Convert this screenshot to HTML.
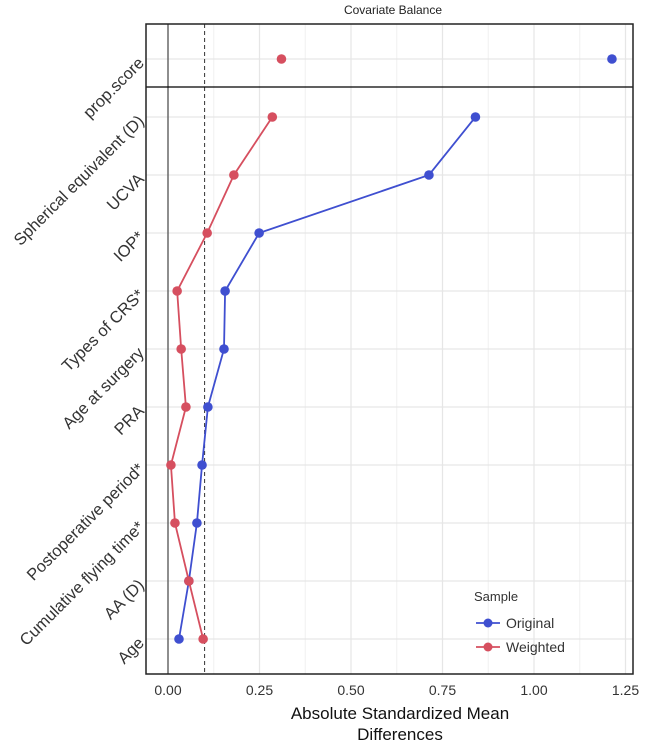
<!DOCTYPE html>
<html><head><meta charset="utf-8"><style>
body{margin:0;background:#fff;}
svg{display:block;font-family:"Liberation Sans",Arial,sans-serif;}
</style></head><body>
<svg id="chart" width="646" height="746"></svg>
<script>
const categories=["prop.score","Spherical equivalent (D)","UCVA","IOP*","Types of CRS*","Age at surgery","PRA","Postoperative period*","Cumulative flying time*","AA (D)","Age"];
const originalValues=[1.213,0.84,0.713,0.249,0.156,0.153,0.109,0.093,0.079,0.057,0.03];
const weightedValues=[0.31,0.285,0.18,0.107,0.025,0.036,0.049,0.008,0.019,0.057,0.096];
const xTicks=[0,0.25,0.5,0.75,1.0,1.25];
const xTickLabels=["0.00","0.25","0.50","0.75","1.00","1.25"];
const threshold=0.1;

const NS="http://www.w3.org/2000/svg";
const svg=document.getElementById('chart');
const L=146,R=633,T=24,B=674;
const x=v=>168+v*366;
const y=i=>59+i*58;
function el(t,a,p){const e=document.createElementNS(NS,t);for(const k in a)e.setAttribute(k,a[k]);(p||svg).appendChild(e);return e;}

const title=el('text',{x:393,y:14,'font-size':12,'text-anchor':'middle',fill:'#222'});title.textContent='Covariate Balance';



for(let i=0;i<xTicks.length;i++){
 const mv=xTicks[i]+0.125;
 if(x(mv)<R){const g=el('line',{x1:x(mv),x2:x(mv),y1:T,y2:B,stroke:'#f0f0f0','stroke-width':1});
 
 }
}
xTicks.forEach((v,i)=>{
 const g=el('line',{x1:x(v),x2:x(v),y1:T,y2:B,stroke:'#e6e6e6','stroke-width':1.2});
 
 
 const t=el('text',{x:x(v),y:695,'font-size':14,'text-anchor':'middle',fill:'#333'});
 t.textContent=xTickLabels[i];
 
 
});
categories.forEach((c,i)=>{
 const g=el('line',{x1:L,x2:R,y1:y(i),y2:y(i),stroke:'#e6e6e6','stroke-width':1.2});
 
 
 const t=el('text',{x:0,y:0,'font-size':16.5,'text-anchor':'end',fill:'#333',transform:`translate(${L-1},${y(i)+5}) rotate(-45)`});
 t.textContent=c;
 
 
});
const z=el('line',{x1:x(0),x2:x(0),y1:T,y2:B,stroke:'#555','stroke-width':1.3});


const th=el('line',{x1:x(threshold),x2:x(threshold),y1:T,y2:B,stroke:'#333','stroke-width':1,'stroke-dasharray':'4,3'});


const sep=el('line',{x1:L,x2:R,y1:87,y2:87,stroke:'#000','stroke-width':1.2});



function series(vals,color,name){
 const pts=[];for(let i=1;i<vals.length;i++)pts.push(x(vals[i])+','+y(i));
 const pl=el('polyline',{points:pts.join(' '),fill:'none',stroke:color,'stroke-width':1.8});
 
 
 vals.forEach((v,i)=>{
  const c=el('circle',{cx:x(v),cy:y(i),r:4.8,fill:color});
  
  
 });
}
series(originalValues,'#3f4fd0','original');
series(weightedValues,'#d64f5f','weighted');

const frame=el('rect',{x:L,y:T,width:R-L,height:B-T,fill:'none',stroke:'#222','stroke-width':1.5});



const lg=el('g',{});


const lt=el('text',{x:474,y:601,'font-size':13,fill:'#333'},lg);lt.textContent='Sample';
[['Original','#3f4fd0',623],['Weighted','#d64f5f',647]].forEach(([n,c,yy])=>{
 const g=el('g',{},lg);
 
 
 el('line',{x1:476,x2:500,y1:yy,y2:yy,stroke:c,'stroke-width':1.8},g);
 el('circle',{cx:488,cy:yy,r:4.5,fill:c},g);
 const t=el('text',{x:506,y:yy+5,'font-size':14,fill:'#333'},g);t.textContent=n;
});

const a1=el('text',{x:400,y:719,'font-size':17,'text-anchor':'middle',fill:'#111'});a1.textContent='Absolute Standardized Mean';


const a2=el('text',{x:400,y:740,'font-size':17,'text-anchor':'middle',fill:'#111'});a2.textContent='Differences';


</script>
</body></html>
